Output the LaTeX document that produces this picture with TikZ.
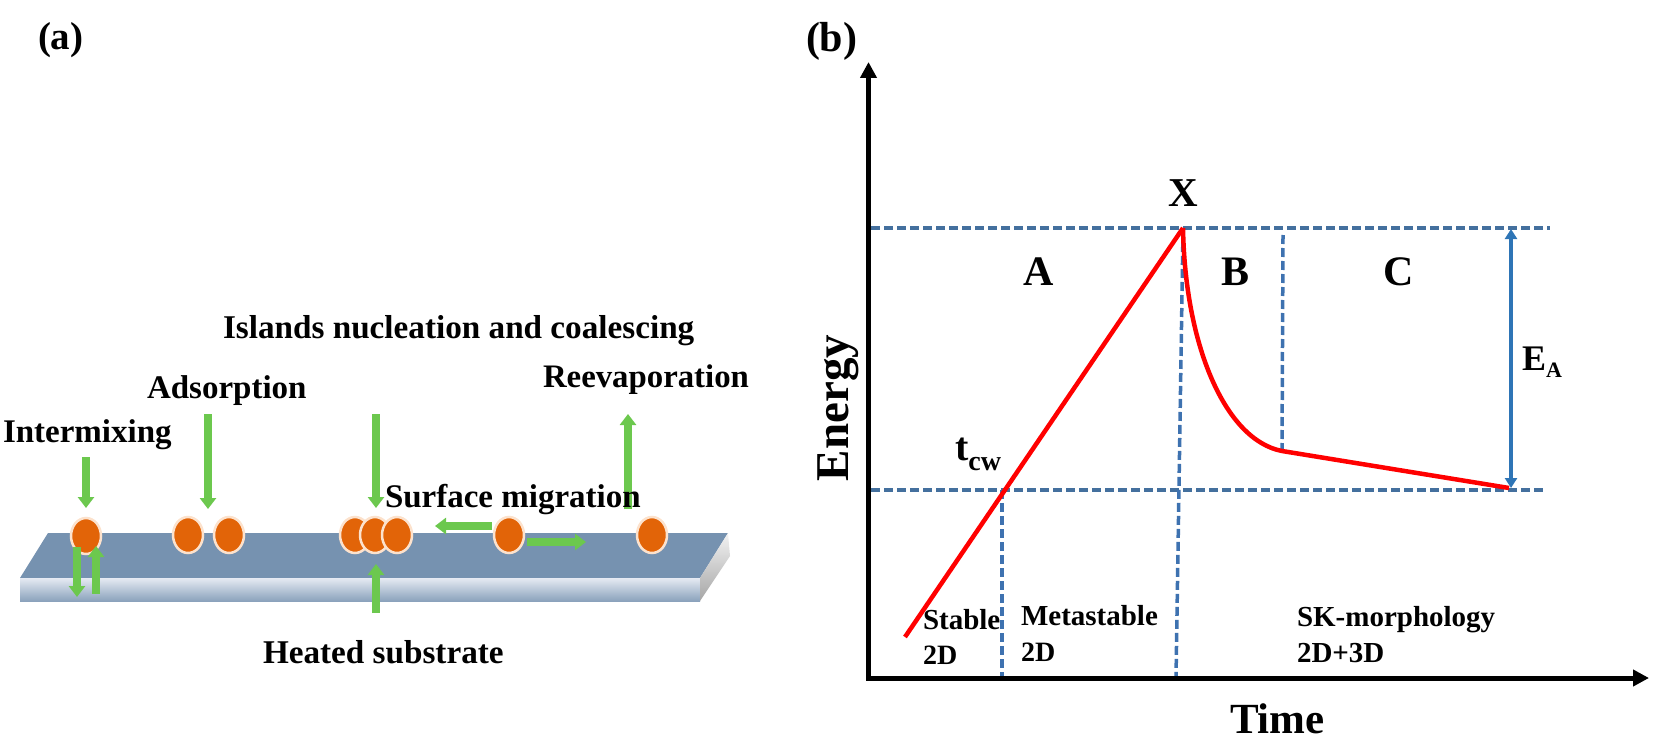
\documentclass[tikz,border=0pt]{standalone}
\usepackage{fontspec}
\setmainfont{Liberation Serif}
\usetikzlibrary{arrows.meta}
\definecolor{grn}{RGB}{108,200,78}
\definecolor{orng}{RGB}{226,100,8}
\definecolor{rim}{RGB}{252,226,205}
\definecolor{slab}{RGB}{118,146,176}
\definecolor{dashh}{RGB}{68,112,158}
\definecolor{dashv}{RGB}{62,114,176}
\definecolor{eacol}{RGB}{46,117,182}
\tikzset{
 x=1pt,y=-1pt,
 lab/.style={anchor=base west,inner sep=0pt,outer sep=0pt,font=\bfseries\fontsize{#1}{#1}\selectfont,text=black},
 lab/.default=33,
 cen/.style={anchor=center,inner sep=0pt,outer sep=0pt,font=\bfseries\fontsize{#1}{#1}\selectfont,text=black},
 garrow/.style={draw=grn,line width=8pt,-{Triangle[length=11pt,width=16pt]}},
 atom/.style={draw=rim,fill=orng,line width=2.5pt},
 axisline/.style={draw=black,line width=5pt,-{Triangle[length=16pt,width=16pt]}},
 dashH/.style={draw=dashh,line width=3.5pt,dash pattern=on 9pt off 4pt},
 dashV/.style={draw=dashv,line width=3.5pt,dash pattern=on 9pt off 4pt},
 redline/.style={draw=red,line width=4.5pt},
}
\begin{document}
\begin{tikzpicture}
\useasboundingbox (0,0) rectangle (1659,746);
% ---- panel a: slab
\fill[slab] (48,533) -- (728,533) -- (700,578) -- (20,578) -- cycle;
\shade[top color=black!8!blue!2!white!85!slab,bottom color=slab!85!white] (20,578) rectangle (700,601);
\shade[top color=white!95!black,bottom color=black!35!white] (700,578) -- (728,533) -- (730,556) -- (700,601) -- cycle;
% atoms
\path[atom] (355,535) ellipse (15 and 18);
\path[atom] (375,535) ellipse (15 and 18);
\path[atom] (397,535) ellipse (15 and 18);
\path[atom] (86,536) ellipse (15 and 18);
\path[atom] (188,535) ellipse (15 and 18);
\path[atom] (229,535) ellipse (15 and 18);
\path[atom] (509,535) ellipse (15 and 18);
\path[atom] (652,535) ellipse (15 and 18);
% green arrows
\coordinate (ia) at (86,457); \coordinate (ib) at (86,508);
\coordinate (ad) at (208,414); \coordinate (ae) at (208,509);
\coordinate (isa) at (376,414); \coordinate (isb) at (376,508);
\coordinate (ha) at (376,613); \coordinate (hb) at (376,564);
\coordinate (ma) at (77,547); \coordinate (mb) at (77,597);
\coordinate (na) at (96,594); \coordinate (nb) at (96,546);
\coordinate (la) at (492,526); \coordinate (lb) at (435,526);
\coordinate (ra) at (527,542); \coordinate (rb) at (586,542);
\coordinate (va) at (628,509); \coordinate (vb) at (628,414);
\foreach \p/\q in {ia/ib,ad/ae,isa/isb,ha/hb,ma/mb,na/nb,la/lb,ra/rb,va/vb}{\path[garrow] (\p) -- (\q);}
% labels a
\node[lab=39] (pa) at (38,50) {(a)};
\node[lab=33.2] (t1) at (223,338) {Islands nucleation and coalescing};
\node[lab=33] (t2) at (147,398) {Adsorption};
\node[lab=33] (t3) at (3,442) {Intermixing};
\node[lab=33] (t4) at (385,507) {Surface migration};
\node[lab=32.8] (t5) at (543,387) {Reevaporation};
\node[lab=33.2] (t6) at (263,663) {Heated substrate};
% ---- panel b
\coordinate (org) at (868.5,678);
\coordinate (ytop) at (868.5,62);
\coordinate (xend) at (1649,678);
\coordinate (hl1) at (871,228); \coordinate (hr1) at (1550,228);
\coordinate (hl2) at (871,490); \coordinate (hr2) at (1545,490);
\coordinate (peak) at (1183,228);
\coordinate (start) at (905,637);
\coordinate (knee) at (1282,451);
\coordinate (endp) at (1509,488);
\path[dashH] (hl1) -- (hr1);
\path[dashH] (hl2) -- (hr2);
\path[dashV] (1183,230) -- (1176,678);
\path[dashV] (1283,235) -- (knee);
\path[dashV] (1002,490) -- (1002,678);
\path[redline] (start) -- (peak);
\path[redline] (peak) .. controls (1185,345) and (1225,440) .. (knee) -- (endp);
\path[draw=eacol,line width=3.5pt,{Triangle[length=10pt,width=12pt]}-{Triangle[length=10pt,width=12pt]}] (1511,229) -- (1511,488);
\path[axisline] (org) -- (ytop);
\path[axisline] (866,678) -- (xend);
% labels b
\node[lab=42] (pb) at (806,52) {(b)};
\node[cen=47,rotate=90] (en) at (838,408) {Energy};
\node[lab=43] (ti) at (1230,733) {Time};
\node[lab=41] (xx) at (1168,207) {X};
\node[lab=42] (aa) at (1023,285) {A};
\node[lab=42] (bb) at (1221,285) {B};
\node[lab=42] (cc) at (1383,285) {C};
\node[lab=40] (tc) at (955,460) {t\raisebox{-10pt}{\fontsize{28}{28}\selectfont cw}};
\node[lab=36] (ea) at (1522,370) {E\raisebox{-7pt}{\fontsize{22}{22}\selectfont A}};
\node[lab=29] (s1) at (923,629) {Stable};
\node[lab=28] (s2) at (923,664) {2D};
\node[lab=29] (m1) at (1021,625) {Metastable};
\node[lab=28] (m2) at (1021,661) {2D};
\node[lab=29] (k1) at (1297,626) {SK-morphology};
\node[lab=29] (k2) at (1297,662) {2D+3D};
\end{tikzpicture}
\end{document}
